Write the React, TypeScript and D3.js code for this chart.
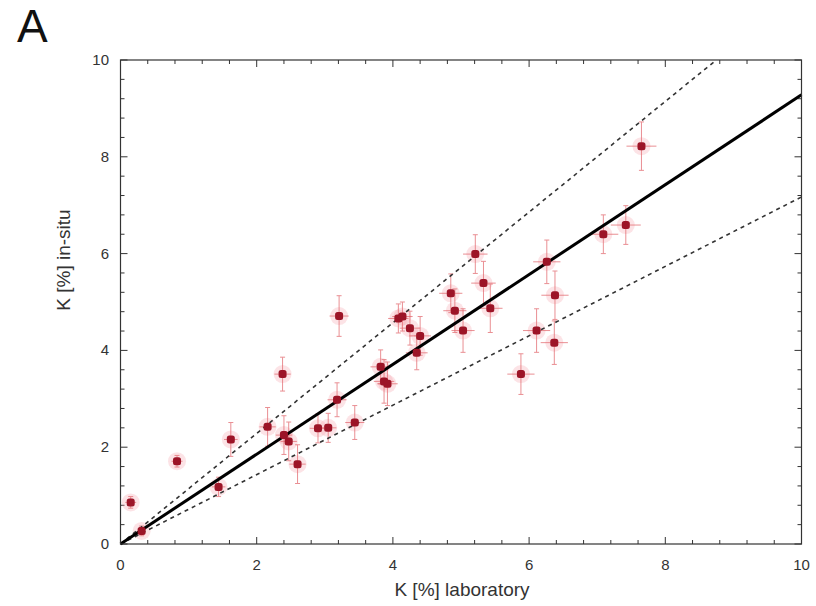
import React from "react";
import * as d3 from "d3";

const labK = [0.15, 0.31, 0.83, 1.44, 1.62, 2.16, 2.38, 2.40, 2.47, 2.60, 2.90, 3.05, 3.18, 3.21, 3.44, 3.82, 3.87, 3.92, 4.08, 4.14, 4.25, 4.40, 4.35, 4.85, 4.91, 5.03, 5.21, 5.33, 5.43, 5.88, 6.11, 6.26, 6.38, 6.37, 7.09, 7.42, 7.65];
const inSituK = [0.86, 0.27, 1.71, 1.18, 2.16, 2.42, 3.51, 2.25, 2.12, 1.65, 2.39, 2.40, 2.98, 4.71, 2.51, 3.66, 3.36, 3.31, 4.66, 4.70, 4.46, 4.30, 3.95, 5.18, 4.82, 4.41, 5.99, 5.39, 4.87, 3.51, 4.41, 5.83, 5.14, 4.16, 6.40, 6.59, 8.22];
const errLab = [0.08, 0.05, 0.08, 0.1, 0.1, 0.12, 0.12, 0.12, 0.12, 0.12, 0.12, 0.12, 0.14, 0.14, 0.14, 0.15, 0.15, 0.15, 0.15, 0.15, 0.15, 0.16, 0.16, 0.17, 0.17, 0.17, 0.18, 0.18, 0.18, 0.2, 0.2, 0.2, 0.2, 0.2, 0.22, 0.22, 0.22];
const errInSitu = [0.12, 0.1, 0.12, 0.2, 0.35, 0.4, 0.35, 0.4, 0.4, 0.4, 0.3, 0.3, 0.35, 0.42, 0.35, 0.35, 0.45, 0.45, 0.3, 0.3, 0.35, 0.4, 0.35, 0.4, 0.45, 0.45, 0.4, 0.45, 0.5, 0.42, 0.45, 0.45, 0.5, 0.45, 0.4, 0.4, 0.5];

const fitSlope = 0.928;
const upperSlope = 1.143;
const lowerSlope = 0.717;

const majorTicks = [0, 2, 4, 6, 8, 10];
const minorTicks = d3.range(0, 10.01, 0.4);

export default function App() {
  const W = 816, H = 606;
  const left = 120.5, right = 801.5, top = 60, bottom = 544;
  const x = d3.scaleLinear().domain([0, 10]).range([left, right]);
  const y = d3.scaleLinear().domain([0, 10]).range([bottom, top]);
  const font = "'Liberation Sans', Arial, Helvetica, sans-serif";

  const lineFor = (s: number) => {
    const xEnd = Math.min(10, 10 / s);
    const pts: [number, number][] = [[0, 0], [xEnd, s * xEnd]];
    return d3.line<[number, number]>().x(d => x(d[0])).y(d => y(d[1]))(pts) as string;
  };

  const majorLen = 7, minorLen = 4;

  return (
    <svg width={W} height={H} style={{ position: "absolute", left: 0, top: 0, background: "#fff" }}>
      <rect x={0} y={0} width={W} height={H} fill="#fff" />
      <text x={17} y={42} fontFamily={font} fontSize={46} fill="#111">A</text>

      {minorTicks.map((t, i) => {
        const isMajor = majorTicks.some(m => Math.abs(m - t) < 1e-6);
        const L = isMajor ? majorLen : minorLen;
        return (
          <g key={"t" + i} stroke="#333" strokeWidth={1}>
            <line x1={x(t)} x2={x(t)} y1={bottom} y2={bottom - L} />
            <line x1={x(t)} x2={x(t)} y1={top} y2={top + L} />
            <line y1={y(t)} y2={y(t)} x1={left} x2={left + L} />
            <line y1={y(t)} y2={y(t)} x1={right} x2={right - L} />
          </g>
        );
      })}

      {majorTicks.map(t => (
        <text key={"xl" + t} x={x(t)} y={570} textAnchor="middle" fontFamily={font} fontSize={15} fill="#333">{t}</text>
      ))}
      {majorTicks.map(t => (
        <text key={"yl" + t} x={109} y={y(t) + 5} textAnchor="end" fontFamily={font} fontSize={15} fill="#333">{t}</text>
      ))}

      <text x={462} y={596} textAnchor="middle" fontFamily={font} fontSize={19} fill="#333">K [%] laboratory</text>
      <text transform={`translate(70,260) rotate(-90)`} textAnchor="middle" fontFamily={font} fontSize={19} fill="#333">K [%] in-situ</text>

      {labK.map((v, i) => (
        <circle key={"h" + i} cx={x(v)} cy={y(inSituK[i])} r={9} fill="#f5a3ad" opacity={0.3} />
      ))}

      {labK.map((v, i) => {
        const cx = x(v), cy = y(inSituK[i]);
        const y0 = y(inSituK[i] - errInSitu[i]), y1 = y(inSituK[i] + errInSitu[i]);
        const x0 = x(v - errLab[i]), x1 = x(v + errLab[i]);
        return (
          <g key={"e" + i} stroke="#e36a70" strokeWidth={1} opacity={0.75}>
            <line x1={cx} x2={cx} y1={y0} y2={y1} />
            <line x1={cx - 2.5} x2={cx + 2.5} y1={y0} y2={y0} />
            <line x1={cx - 2.5} x2={cx + 2.5} y1={y1} y2={y1} />
            <line x1={x0} x2={x1} y1={cy} y2={cy} />
          </g>
        );
      })}

      <path d={lineFor(upperSlope)} stroke="#333" strokeWidth={1.6} strokeDasharray="4,4" fill="none" />
      <path d={lineFor(lowerSlope)} stroke="#333" strokeWidth={1.6} strokeDasharray="4,4" fill="none" />
      <path d={lineFor(fitSlope)} stroke="#000" strokeWidth={3} fill="none" />

      {labK.map((v, i) => (
        <rect key={"p" + i} x={x(v) - 4} y={y(inSituK[i]) - 4} width={8} height={8} rx={2.5} fill="#9c1427" />
      ))}

      <rect x={left} y={top} width={right - left} height={bottom - top} fill="none" stroke="#333" strokeWidth={1.2} />
    </svg>
  );
}
